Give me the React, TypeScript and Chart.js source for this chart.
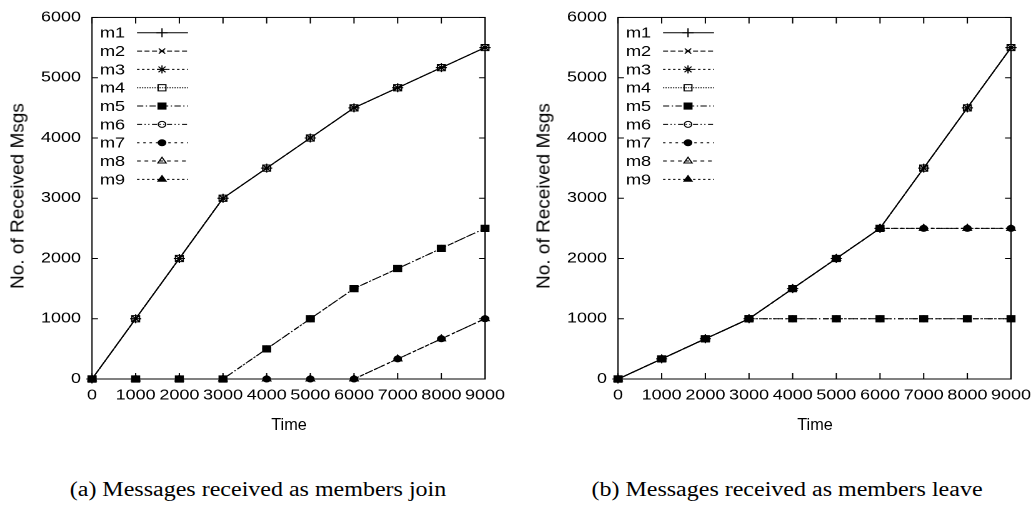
import React, { useEffect, useRef } from 'react';
import { Chart, registerables } from 'chart.js';
import { drawPoint } from 'chart.js/helpers';

Chart.register(...registerables);

// ---------- data ----------
const times = [0, 1000, 2000, 3000, 4000, 5000, 6000, 7000, 8000, 9000];
const xTicks = [0, 1000, 2000, 3000, 4000, 5000, 6000, 7000, 8000, 9000];
const yTicks = [0, 1000, 2000, 3000, 4000, 5000, 6000];
const seriesNames = ['m1', 'm2', 'm3', 'm4', 'm5', 'm6', 'm7', 'm8', 'm9'];

// (a) members join
const joinM1toM4 = [0, 1000, 2000, 3000, 3500, 4000, 4500, 4833, 5167, 5500];
const joinM5toM6 = [0, 0, 0, 0, 500, 1000, 1500, 1833, 2167, 2500];
const joinM7toM9 = [0, 0, 0, 0, 0, 0, 0, 333, 667, 1000];

// (b) members leave
const leaveM1toM4 = [0, 333, 667, 1000, 1500, 2000, 2500, 3500, 4500, 5500];
const leaveM5toM6 = [0, 333, 667, 1000, 1000, 1000, 1000, 1000, 1000, 1000];
const leaveM7toM9 = [0, 333, 667, 1000, 1500, 2000, 2500, 2500, 2500, 2500];

const joinSeries = [joinM1toM4, joinM1toM4, joinM1toM4, joinM1toM4, joinM5toM6, joinM5toM6, joinM7toM9, joinM7toM9, joinM7toM9];
const leaveSeries = [leaveM1toM4, leaveM1toM4, leaveM1toM4, leaveM1toM4, leaveM5toM6, leaveM5toM6, leaveM7toM9, leaveM7toM9, leaveM7toM9];

const xTitle = 'Time';
const yTitle = 'No. of Received Msgs';
const captions = ['(a) Messages received as members join', '(b) Messages received as members leave'];

// ---------- styles ----------
const SX = 1.25; // horizontal stretch of the plots
const CW = 416;
const CH = 440;
const FONT_FAMILY = '"Liberation Sans", Arial, Helvetica, sans-serif';
const FS = 14.4;

const styles = [
  { dash: [], point: 'cross', r: 4.5, fill: false },
  { dash: [4, 2], point: 'crossRot', r: 3.6, fill: false },
  { dash: [2, 2], point: 'star', r: 4, fill: false },
  { dash: [1, 1], point: 'rect', r: 4.4, fill: false },
  { dash: [5, 2, 1, 2], point: 'rect', r: 4.4, fill: true },
  { dash: [4, 2, 1, 2, 1, 2], point: 'circle', r: 3, fill: false },
  { dash: [2, 3], point: 'circle', r: 3, fill: true },
  { dash: [3, 3], point: 'triangle', r: 3.8, fill: false },
  { dash: [2, 2], point: 'triangle', r: 3.8, fill: true },
];

const framePlugin = {
  id: 'frameTicks',
  beforeDatasetsDraw(chart: any) {
    const { ctx, chartArea: a, scales } = chart;
    ctx.save();
    ctx.strokeStyle = '#000';
    ctx.lineWidth = 1;
    ctx.setLineDash([]);
    ctx.strokeRect(a.left, a.top, a.right - a.left, a.bottom - a.top);
    ctx.beginPath();
    xTicks.forEach((v) => {
      const x = scales.x.getPixelForValue(v);
      ctx.moveTo(x, a.bottom);
      ctx.lineTo(x, a.bottom - 6);
      ctx.moveTo(x, a.top);
      ctx.lineTo(x, a.top + 6);
    });
    yTicks.forEach((v) => {
      const y = scales.y.getPixelForValue(v);
      ctx.moveTo(a.left, y);
      ctx.lineTo(a.left + 4.8, y);
      ctx.moveTo(a.right, y);
      ctx.lineTo(a.right - 4.8, y);
    });
    ctx.stroke();
    ctx.restore();
  },
};

const legendPlugin = {
  id: 'gnuLegend',
  afterDatasetsDraw(chart: any) {
    const { ctx, chartArea: a } = chart;
    chart.data.datasets.forEach((ds: any, i: number) => {
      const y = a.top + 15.3 + i * 18.33;
      ctx.save();
      ctx.fillStyle = '#000';
      ctx.font = `${FS}px ${FONT_FAMILY}`;
      ctx.textAlign = 'left';
      ctx.textBaseline = 'alphabetic';
      ctx.fillText(ds.label, a.left + 6.4, y + 5);
      ctx.strokeStyle = '#000';
      ctx.lineWidth = 1;
      ctx.setLineDash(ds.borderDash || []);
      ctx.beginPath();
      ctx.moveTo(a.left + 36, y);
      ctx.lineTo(a.left + 76.8, y);
      ctx.stroke();
      ctx.setLineDash([]);
      ctx.fillStyle = ds.pointBackgroundColor;
      ctx.strokeStyle = '#000';
      drawPoint(ctx, { pointStyle: ds.pointStyle, radius: ds.pointRadius, borderWidth: 1, rotation: 0 } as any, a.left + 56, y);
      ctx.restore();
    });
  },
};

function buildConfig(series: number[][]): any {
  const datasets = seriesNames.map((name, i) => {
    const st = styles[i];
    return {
      label: name,
      data: times.map((t, k) => ({ x: t, y: series[i][k] })),
      borderColor: '#000',
      borderWidth: 1,
      borderDash: st.dash,
      pointStyle: st.point,
      pointRadius: st.r,
      pointBorderColor: '#000',
      pointBorderWidth: 1,
      pointBackgroundColor: st.fill ? '#000' : 'rgba(0,0,0,0)',
      tension: 0,
      fill: false,
      clip: false,
      order: 9 - i,
    };
  });
  const font = { family: FONT_FAMILY, size: FS };
  return {
    type: 'line',
    data: { datasets },
    options: {
      responsive: false,
      animation: false,
      devicePixelRatio: 2,
      layout: { padding: { top: 13, right: 28, left: 0, bottom: 0 } },
      plugins: { legend: { display: false }, tooltip: { enabled: false } },
      scales: {
        x: {
          type: 'linear',
          min: 0,
          max: 9000,
          afterBuildTicks: (s: any) => {
            s.ticks = xTicks.map((v) => ({ value: v }));
          },
          afterFit: (s: any) => {
            s.height = 61;
          },
          ticks: {
            autoSkip: false,
            maxRotation: 0,
            minRotation: 0,
            padding: 8,
            font,
            color: '#000',
            callback: (v: any) => String(v),
          },
          grid: { display: false, drawTicks: false },
          border: { display: false },
          title: { display: false },
        },
        y: {
          type: 'linear',
          min: 0,
          max: 6000,
          afterBuildTicks: (s: any) => {
            s.ticks = yTicks.map((v) => ({ value: v }));
          },
          afterFit: (s: any) => {
            s.width = 73.6;
          },
          ticks: { padding: 8.8, font, color: '#000', callback: (v: any) => String(v) },
          grid: { display: false, drawTicks: false },
          border: { display: false },
          title: { display: false },
        },
      },
    },
    plugins: [framePlugin, legendPlugin],
  };
}

function Plot({ series, left }: { series: number[][]; left: number }) {
  const ref = useRef<HTMLCanvasElement>(null);
  useEffect(() => {
    if (!ref.current) return;
    const chart = new Chart(ref.current, buildConfig(series));
    return () => chart.destroy();
  }, [series]);
  return (
    <>
      <canvas
        ref={ref}
        width={CW}
        height={CH}
        style={{
          position: 'absolute',
          left,
          top: 0,
          width: CW,
          height: CH,
          transform: `scaleX(${SX})`,
          transformOrigin: '0 0',
        }}
      />
      <div
        style={{
          position: 'absolute',
          left: left + 17,
          top: 196,
          fontFamily: FONT_FAMILY,
          fontSize: 19,
          lineHeight: 1,
          color: '#000',
          whiteSpace: 'nowrap',
          transform: 'translate(-50%, -50%) rotate(-90deg)',
        }}
      >
        {yTitle}
      </div>
      <div
        style={{
          position: 'absolute',
          left: left + 289,
          top: 416,
          fontFamily: FONT_FAMILY,
          fontSize: 16.3,
          lineHeight: 1,
          color: '#000',
          whiteSpace: 'nowrap',
          transform: 'translateX(-50%)',
        }}
      >
        {xTitle}
      </div>
    </>
  );
}

function Caption({ text, center }: { text: string; center: number }) {
  return (
    <div
      style={{
        position: 'absolute',
        left: center,
        top: 478,
        height: 23,
        lineHeight: '23px',
        fontFamily: '"Liberation Serif", "Times New Roman", serif',
        fontSize: 20,
        color: '#000',
        whiteSpace: 'nowrap',
        transform: 'translateX(-50%) scaleX(1.2)',
      }}
    >
      {text}
    </div>
  );
}

export default function App() {
  return (
    <div
      style={{
        position: 'absolute',
        left: 0,
        top: 0,
        width: 1036,
        height: 508,
        overflow: 'hidden',
        background: '#fff',
      }}
    >
      <Plot series={joinSeries} left={0} />
      <Plot series={leaveSeries} left={526} />
      <Caption text={captions[0]} center={258} />
      <Caption text={captions[1]} center={787} />
    </div>
  );
}
